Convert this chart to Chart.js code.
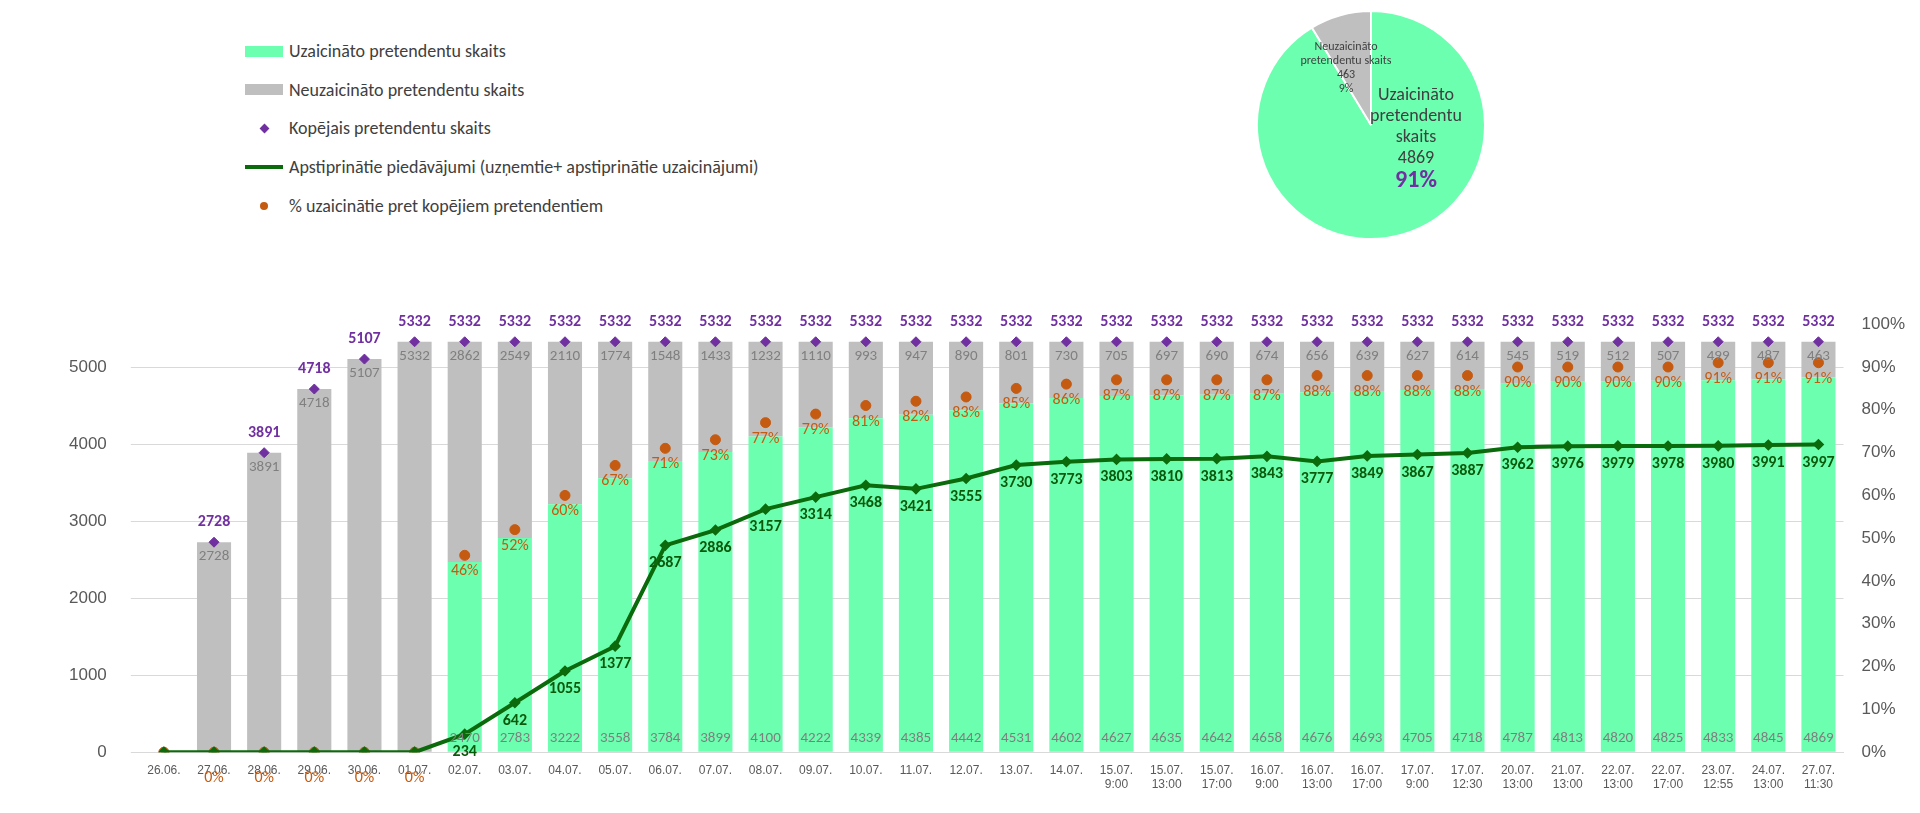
<!DOCTYPE html>
<html lang="lv">
<head>
<meta charset="UTF-8">
<title>Pretendenti</title>
<script src="https://cdn.jsdelivr.net/npm/chart.js"></script>
<style>
  body { margin: 0; background: #fff; font-family: Calibri, "Liberation Sans", Arial, sans-serif; }
  #wrap { position: relative; width: 1920px; height: 813px; overflow: hidden; }
  #legend { position: absolute; left: 245px; top: 32px; font-size: 18px; color: #404040; }
  #legend div { height: 38.6px; display: flex; align-items: center; }
  #legend .sw { width: 38px; margin-right: 6px; display: flex; justify-content: center; align-items: center; }
  #pieBox { position: absolute; left: 1256px; top: 10px; width: 230px; height: 230px; }
  #mainBox { position: absolute; left: 0; top: 290px; width: 1920px; height: 505px; }
</style>
</head>
<body>
<div id="wrap">
  <div id="legend">
    <div><span class="sw"><span style="display:inline-block;width:38px;height:11px;background:#6dffb0"></span></span>Uzaicināto pretendentu skaits</div>
    <div><span class="sw"><span style="display:inline-block;width:38px;height:11px;background:#bfbfbf"></span></span>Neuzaicināto pretendentu skaits</div>
    <div><span class="sw"><span style="display:inline-block;width:7px;height:7px;background:#7030a0;transform:rotate(45deg)"></span></span>Kopējais pretendentu skaits</div>
    <div><span class="sw"><span style="display:inline-block;width:38px;height:4px;background:#0b6a0b"></span></span>Apstiprinātie piedāvājumi (uzņemtie+ apstiprinātie uzaicinājumi)</div>
    <div><span class="sw"><span style="display:inline-block;width:8px;height:8px;border-radius:50%;background:#c55a11"></span></span>% uzaicinātie pret kopējiem pretendentiem</div>
  </div>
  <div id="pieBox"><canvas id="pie"></canvas></div>
  <div id="mainBox"><canvas id="main"></canvas></div>
</div>
<script>
const labels = ['26.06.','27.06.','28.06.','29.06.','30.06.','01.07.','02.07.','03.07.','04.07.','05.07.','06.07.','07.07.','08.07.','09.07.','10.07.','11.07.','12.07.','13.07.','14.07.',
  ['15.07.','9:00'],['15.07.','13:00'],['15.07.','17:00'],['16.07.','9:00'],['16.07.','13:00'],['16.07.','17:00'],['17.07.','9:00'],['17.07.','12:30'],
  ['20.07.','13:00'],['21.07.','13:00'],['22.07.','13:00'],['22.07.','17:00'],['23.07.','12:55'],['24.07.','13:00'],['27.07.','11:30']];
const invited = [0,0,0,0,0,0,2470,2783,3222,3558,3784,3899,4100,4222,4339,4385,4442,4531,4602,4627,4635,4642,4658,4676,4693,4705,4718,4787,4813,4820,4825,4833,4845,4869];
const notInvited = [0,2728,3891,4718,5107,5332,2862,2549,2110,1774,1548,1433,1232,1110,993,947,890,801,730,705,697,690,674,656,639,627,614,545,519,512,507,499,487,463];
const total = [null,2728,3891,4718,5107,5332,5332,5332,5332,5332,5332,5332,5332,5332,5332,5332,5332,5332,5332,5332,5332,5332,5332,5332,5332,5332,5332,5332,5332,5332,5332,5332,5332,5332];
const approved = [0,0,0,0,0,0,234,642,1055,1377,2687,2886,3157,3314,3468,3421,3555,3730,3773,3803,3810,3813,3843,3777,3849,3867,3887,3962,3976,3979,3978,3980,3991,3997];
const percent = [0,0,0,0,0,0,46,52,60,67,71,73,77,79,81,82,83,85,86,87,87,87,87,88,88,88,88,90,90,90,90,91,91,91];
const pieLabels = ['Uzaicināto pretendentu skaits','Neuzaicināto pretendentu skaits'];
const pieValues = [4869, 463];
const FONT = 'Calibri, "Liberation Sans", sans-serif';

const labelPlugin = {
  id: 'labels',
  afterDatasetsDraw(chart) {
    const ctx = chart.ctx;
    const y = chart.scales.y;
    ctx.save();
    ctx.textAlign = 'center';
    const m0 = chart.getDatasetMeta(0).data, m1 = chart.getDatasetMeta(1).data,
          m2 = chart.getDatasetMeta(2).data, m3 = chart.getDatasetMeta(3).data, m4 = chart.getDatasetMeta(4).data;
    for (let i = 0; i < labels.length; i++) {
      ctx.font = '15px ' + FONT;
      ctx.fillStyle = '#7f7f7f';
      if (invited[i] > 0) ctx.fillText(invited[i], m0[i].x, y.getPixelForValue(0) - 10);
      if (notInvited[i] > 0) ctx.fillText(notInvited[i], m1[i].x, m1[i].y + 18);
      if (total[i] !== null) {
        ctx.font = 'bold 16px ' + FONT;
        ctx.fillStyle = '#7030a0';
        ctx.fillText(total[i], m2[i].x, m2[i].y - 16);
      }
      if (i > 0) {
        ctx.font = '16px ' + FONT;
        ctx.fillStyle = '#c55a11';
        const py = percent[i] === 0 ? y.getPixelForValue(0) + 30 : m4[i].y + 20;
        ctx.fillText(percent[i] + '%', m4[i].x, py);
      }
      if (approved[i] > 0) {
        ctx.font = 'bold 16px ' + FONT;
        ctx.fillStyle = '#0b5a0b';
        ctx.fillText(approved[i], m3[i].x, m3[i].y + 22);
      }
    }
    ctx.restore();
  }
};

new Chart(document.getElementById('main'), {
  data: {
    labels: labels,
    datasets: [
      { type: 'bar', label: 'Uzaicināto', data: invited, backgroundColor: '#6dffb0', stack: 's', order: 5, categoryPercentage: 0.68, barPercentage: 1 },
      { type: 'bar', label: 'Neuzaicināto', data: notInvited, backgroundColor: '#bfbfbf', stack: 's', order: 5, categoryPercentage: 0.68, barPercentage: 1 },
      { type: 'line', label: 'Kopējais', data: total, stack: 'a', showLine: false, pointStyle: 'rectRot', pointRadius: 5, backgroundColor: '#7030a0', borderColor: '#7030a0', order: 1 },
      { type: 'line', label: 'Apstiprinātie', data: approved, stack: 'b', borderColor: '#0b6a0b', backgroundColor: '#0b6a0b', borderWidth: 4, pointStyle: 'rectRot', pointRadius: 3, tension: 0, order: 2 },
      { type: 'line', label: '%', data: percent, yAxisID: 'y1', showLine: false, pointRadius: 5, backgroundColor: '#c55a11', borderColor: '#c55a11', order: 3 }
    ]
  },
  options: {
    responsive: true, maintainAspectRatio: false, animation: false,
    layout: { padding: { top: 30, left: 45, right: 5 } },
    plugins: { legend: { display: false }, tooltip: { enabled: false } },
    scales: {
      x: { stacked: true, grid: { display: false }, border: { color: '#d9d9d9' },
           ticks: { color: '#595959', font: { size: 12 }, maxRotation: 0, autoSkip: false } },
      y: { stacked: true, min: 0, max: 5560, border: { display: false }, grid: { color: '#d9d9d9' },
           afterBuildTicks: s => { s.ticks = [0,1000,2000,3000,4000,5000].map(v => ({ value: v })); },
           ticks: { color: '#595959', font: { size: 17 }, padding: 24, callback: v => String(v) } },
      y1: { position: 'right', min: 0, max: 100, border: { display: false }, grid: { display: false },
            ticks: { stepSize: 10, color: '#595959', font: { size: 17 }, padding: 10, callback: v => v + '%' } }
    }
  },
  plugins: [labelPlugin]
});

const piePlugin = {
  id: 'pieText',
  afterDatasetsDraw(chart) {
    const ctx = chart.ctx, a = chart.getDatasetMeta(0).data[0];
    ctx.save();
    ctx.textAlign = 'center';
    ctx.fillStyle = '#404040';
    ctx.font = '18px ' + FONT;
    const cx = a.x + 45, cy = a.y;
    ['Uzaicināto','pretendentu','skaits', pieValues[0]].forEach((t, k) => ctx.fillText(t, cx, cy - 25 + k * 21));
    ctx.fillStyle = '#7030a0';
    ctx.font = 'bold 24px ' + FONT;
    ctx.fillText(Math.round(pieValues[0] / (pieValues[0] + pieValues[1]) * 100) + '%', cx, cy + 62);
    ctx.fillStyle = '#404040';
    ctx.font = '12px ' + FONT;
    ['Neuzaicināto','pretendentu skaits', pieValues[1], Math.round(pieValues[1] / (pieValues[0] + pieValues[1]) * 100) + '%']
      .forEach((t, k) => ctx.fillText(t, a.x - 25, a.y - 75 + k * 14));
    ctx.restore();
  }
};

new Chart(document.getElementById('pie'), {
  type: 'pie',
  data: { labels: pieLabels, datasets: [{ data: pieValues, backgroundColor: ['#6dffb0', '#bfbfbf'], borderColor: '#fff', borderWidth: 2 }] },
  options: { responsive: true, maintainAspectRatio: false, animation: false,
             plugins: { legend: { display: false }, tooltip: { enabled: false } } },
  plugins: [piePlugin]
});
</script>
</body>
</html>
